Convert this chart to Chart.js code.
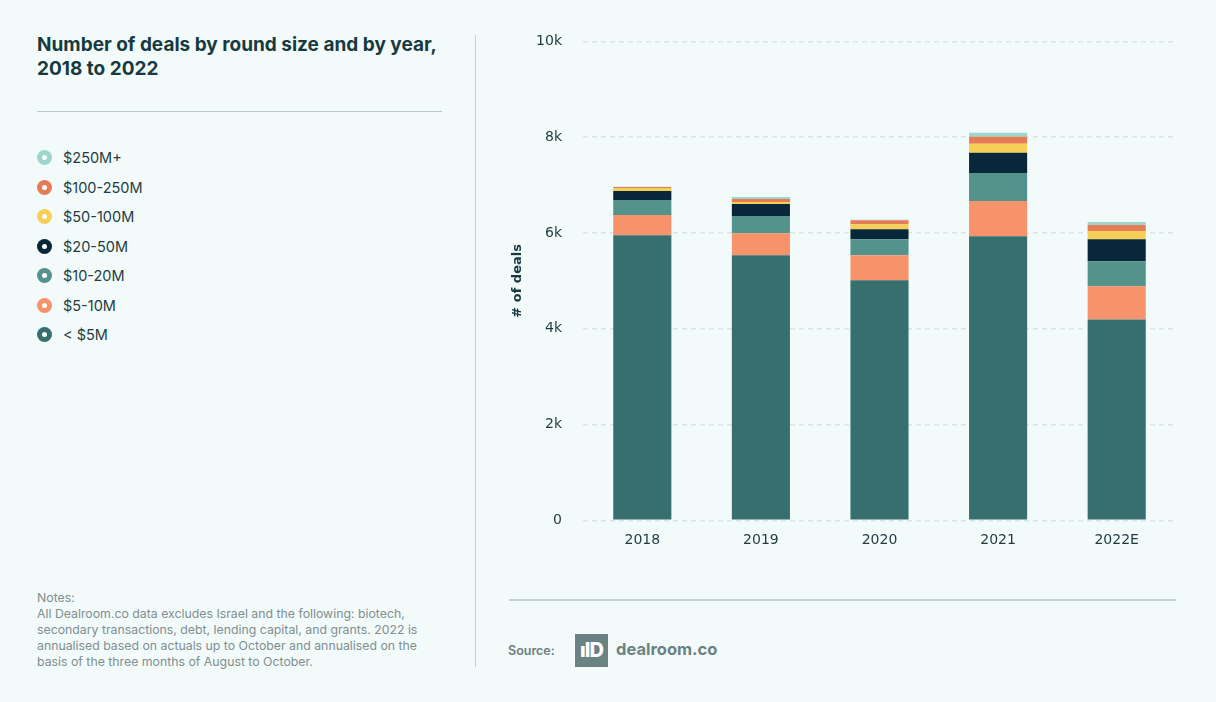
<!DOCTYPE html>
<html lang="en">
<head>
    <meta charset="UTF-8">
    <title>Number of deals by round size and by year</title>
    <script src="https://cdn.jsdelivr.net/npm/chart.js"></script>
    <style>
        body { margin: 0; background: #f2fafa; font-family: Inter, "Noto Sans", sans-serif; color: #173a40; }
        .page { position: relative; width: 1216px; height: 702px; overflow: hidden; }
        .title { position: absolute; left: 37px; top: 33px; width: 420px; font-size: 19px; font-weight: 700; line-height: 24px; }
        .rule { position: absolute; left: 37px; top: 111px; width: 405px; height: 1px; background: #b9c7c7; }
        .divider { position: absolute; left: 475px; top: 35px; width: 1px; height: 632px; background: #c5d0d0; }
        .legend { position: absolute; left: 37px; top: 143px; }
        .legend div { display: flex; align-items: center; height: 29.5px; font-size: 14.5px; color: #1f3d42; }
        .dot { width: 15px; height: 15px; border-radius: 50%; margin-right: 11px; display: flex; align-items: center; justify-content: center; }
        .dot span { width: 5px; height: 5px; border-radius: 50%; background: #fff; }
        .notes { position: absolute; left: 37px; top: 590px; width: 400px; font-size: 12.3px; line-height: 16px; color: #7f8f90; }
        .chart-box { position: absolute; left: 500px; top: 12px; width: 690px; height: 540px; }
        .foot-rule { position: absolute; left: 509px; top: 599px; width: 667px; height: 2px; background: #c6d2d2; }
        .source { position: absolute; left: 508px; top: 643px; font-size: 12.5px; font-weight: 600; color: #6d7f80; }
        .logo { position: absolute; left: 575px; top: 634px; width: 33px; height: 33px; background: #6b8282; color: #fff; font-weight: 800; font-size: 20px; line-height: 33px; text-align: center; letter-spacing: -1px; }
        .brand { position: absolute; left: 616px; top: 639px; font-size: 16.5px; font-weight: 700; color: #6b8282; }
    </style>
</head>
<body>
<div class="page">
    <div class="title">Number of deals by round size and by year, 2018 to 2022</div>
    <div class="rule"></div>
    <div class="legend" id="legend"></div>
    <div class="notes">Notes:<br>All Dealroom.co data excludes Israel and the following: biotech, secondary transactions, debt, lending capital, and grants. 2022 is annualised based on actuals up to October and annualised on the basis of the three months of August to October.</div>
    <div class="divider"></div>
    <div class="chart-box"><canvas id="chart"></canvas></div>
    <div class="foot-rule"></div>
    <div class="source">Source:</div>
    <div class="logo">ılD</div>
    <div class="brand">dealroom.co</div>
</div>

<script>
    // Data
    const years = ['2018', '2019', '2020', '2021', '2022E'];
    const seriesNames = ['< $5M', '$5-10M', '$10-20M', '$20-50M', '$50-100M', '$100-250M', '$250M+'];
    const seriesColors = ['#376f6f', '#f7936b', '#54928c', '#08283a', '#f6d056', '#e67c55', '#9dd6cc'];

    const under5M   = [5954, 5535, 5010, 5933, 4193];
    const m5to10    = [419, 461, 524, 734, 692];
    const m10to20   = [314, 356, 335, 587, 524];
    const m20to50   = [189, 252, 210, 419, 461];
    const m50to100  = [63, 42, 105, 189, 168];
    const m100to250 = [21, 63, 84, 147, 126];
    const m250plus  = [5, 42, 8, 84, 63];

    const yTicks = [0, 2000, 4000, 6000, 8000, 10000];
    const yTickLabels = ['0', '2k', '4k', '6k', '8k', '10k'];

    const seriesValues = [under5M, m5to10, m10to20, m20to50, m50to100, m100to250, m250plus];

    // HTML legend, top row = largest round size
    const legend = document.getElementById('legend');
    for (let i = seriesNames.length - 1; i >= 0; i--) {
        const row = document.createElement('div');
        row.innerHTML = '<span class="dot" style="background:' + seriesColors[i] + '"><span></span></span>' + seriesNames[i];
        legend.appendChild(row);
    }

    const datasets = seriesNames.map((name, i) => ({
        label: name,
        data: seriesValues[i],
        backgroundColor: seriesColors[i],
        borderWidth: 0,
        barPercentage: 0.49,
        categoryPercentage: 1
    }));

    new Chart(document.getElementById('chart'), {
        type: 'bar',
        data: { labels: years, datasets: datasets },
        options: {
            responsive: true,
            maintainAspectRatio: false,
            animation: false,
            layout: { padding: { top: 5, right: 14, bottom: 0, left: 0 } },
            plugins: { legend: { display: false }, tooltip: { enabled: false } },
            scales: {
                x: {
                    stacked: true,
                    grid: { display: false, drawTicks: false },
                    border: { display: false },
                    ticks: { color: '#1f3b40', font: { family: 'DejaVu Sans', size: 14 }, padding: 12 },
                    afterFit: s => { s.height = 31.7; }
                },
                y: {
                    stacked: true,
                    min: 0,
                    max: 10000,
                    afterBuildTicks: s => { s.ticks = yTicks.map(v => ({ value: v })); },
                    grid: { color: '#dbe4e4', lineWidth: 1.5, drawTicks: false },
                    border: { display: false, dash: [5, 4] },
                    ticks: {
                        color: '#1f3b40',
                        font: { family: 'DejaVu Sans', size: 14 },
                        padding: 21,
                        callback: (v) => yTickLabels[yTicks.indexOf(v)]
                    },
                    title: {
                        display: true,
                        text: '# of deals',
                        color: '#173a40',
                        font: { family: 'DejaVu Sans', size: 13, weight: 'bold' },
                        padding: { top: 10, bottom: 0 }
                    },
                    afterFit: s => { s.width = 83; }
                }
            }
        }
    });
</script>
</body>
</html>
